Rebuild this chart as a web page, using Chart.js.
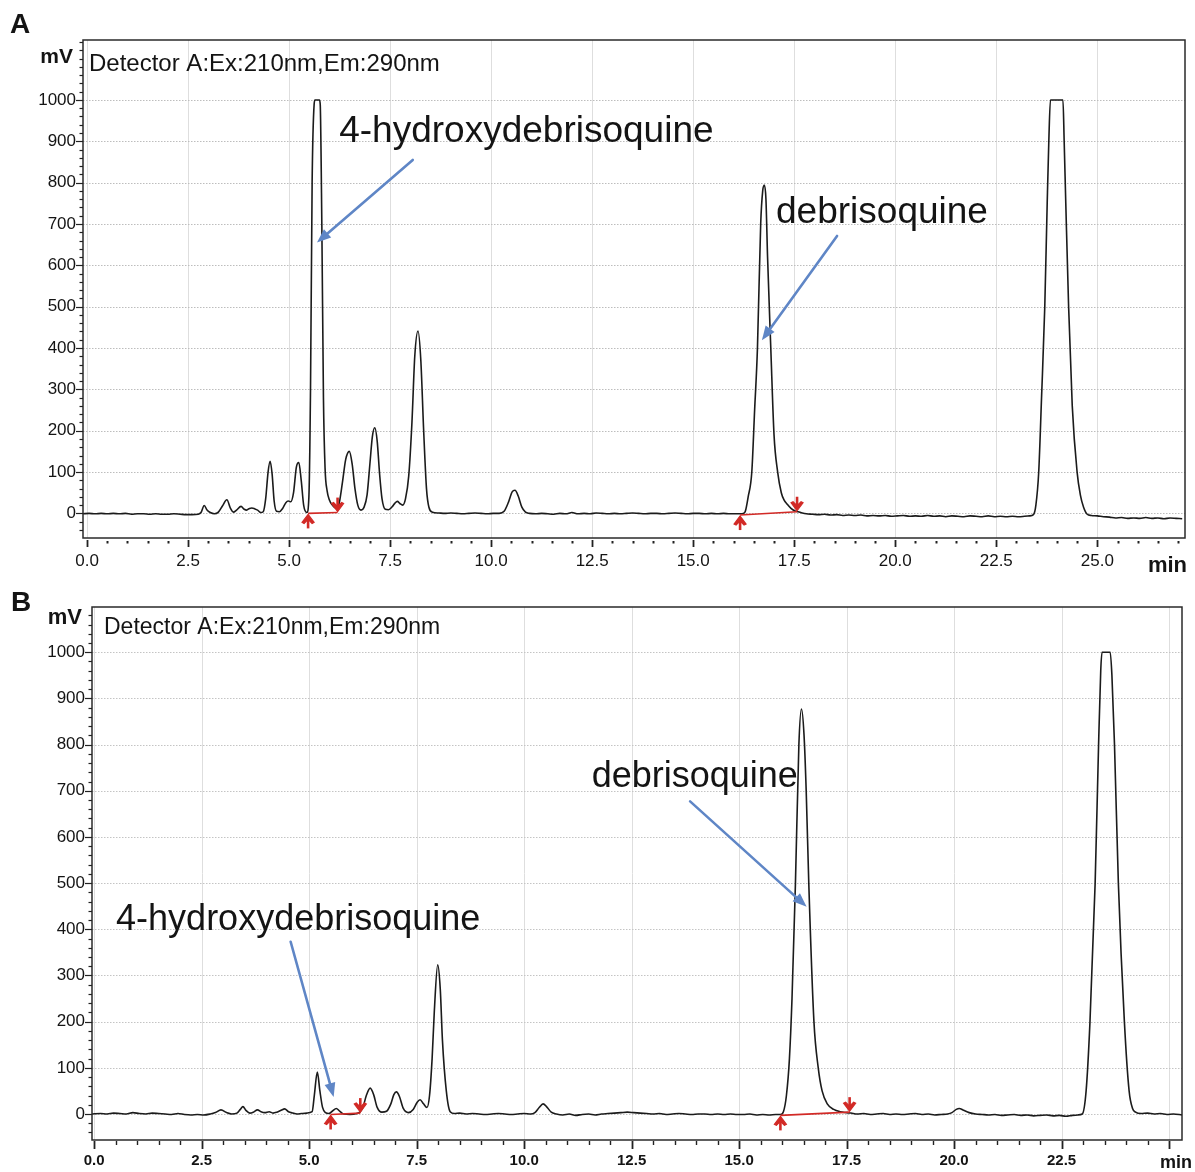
<!DOCTYPE html>
<html>
<head>
<meta charset="utf-8">
<script src="https://cdn.jsdelivr.net/npm/chart.js@4.4.1/dist/chart.umd.min.js"></script>
<style>
html,body{margin:0;padding:0;background:#fff;width:1195px;height:1172px;overflow:hidden;}
#wrapA{position:absolute;left:0;top:0;width:1195px;height:585px;}
#wrapB{position:absolute;left:0;top:585px;width:1195px;height:587px;}
canvas{display:block;}
</style>
</head>
<body>
<div id="wrapA"><canvas id="cA"></canvas></div>
<div id="wrapB"><canvas id="cB"></canvas></div>
<script>
// ---------- tick labels ----------
const xTickValues = [0, 2.5, 5, 7.5, 10, 12.5, 15, 17.5, 20, 22.5, 25];
const xTickLabelsA = ['0.0','2.5','5.0','7.5','10.0','12.5','15.0','17.5','20.0','22.5','25.0'];
const xTickLabelsB = ['0.0','2.5','5.0','7.5','10.0','12.5','15.0','17.5','20.0','22.5',''];
const yTickValues = [0, 100, 200, 300, 400, 500, 600, 700, 800, 900, 1000];
const yTickLabels = ['0','100','200','300','400','500','600','700','800','900','1000'];

// ---------- panel A chromatogram (min, mV) ----------
const timeA = [
  -0.10, 0.05, 0.20, 0.35, 0.50, 0.65, 0.80, 0.95, 1.10, 1.25, 1.40, 1.55, 1.70, 1.85, 2.00, 2.15, 2.30, 2.45, 2.60, 2.75, 2.82,
  2.90, 2.97, 3.05, 3.15, 3.25, 3.35, 3.46, 3.55, 3.62, 3.70, 3.81, 3.89, 3.95, 4.02, 4.08, 4.15, 4.22, 4.30, 4.36,
  4.42, 4.48, 4.53, 4.58, 4.63, 4.69, 4.76, 4.84, 4.92, 4.98, 5.04, 5.11, 5.18, 5.24, 5.30, 5.36, 5.44,
  5.49, 5.53, 5.57, 5.62, 5.64, 5.75, 5.77, 5.81, 5.85, 5.89, 5.94, 6.00, 6.07, 6.13, 6.18,
  6.24, 6.32, 6.40, 6.49, 6.56, 6.63, 6.70, 6.78, 6.85, 6.93, 7.00, 7.06, 7.12, 7.18, 7.24, 7.30, 7.38,
  7.46, 7.55, 7.62, 7.68, 7.74, 7.81, 7.88, 7.96, 8.04, 8.11, 8.19, 8.26, 8.33, 8.40, 8.46, 8.55,
  8.70, 8.85, 9.00, 9.15, 9.30, 9.45, 9.60, 9.75, 9.90, 10.05, 10.20,
  10.32, 10.42, 10.52, 10.59, 10.67, 10.76, 10.85, 10.95,
  11.10, 11.25, 11.40, 11.55, 11.70, 11.85, 12.00, 12.15, 12.30, 12.45, 12.60, 12.75, 12.90, 13.05, 13.20, 13.35, 13.50, 13.65,
  13.80, 13.95, 14.10, 14.25, 14.40, 14.55, 14.70, 14.85, 15.00, 15.15, 15.30, 15.45, 15.60, 15.75, 15.90, 16.05, 16.16, 16.24,
  16.29, 16.36, 16.45, 16.52, 16.59, 16.67, 16.72, 16.76, 16.80, 16.84, 16.92, 17.00, 17.09, 17.18, 17.25, 17.32, 17.42, 17.52, 17.60, 17.70,
  17.80, 17.95, 18.10, 18.25, 18.40, 18.55, 18.70, 18.85, 19.00, 19.15, 19.30, 19.45, 19.60, 19.75, 19.90, 20.05, 20.20, 20.35, 20.50,
  20.65, 20.80, 20.95, 21.10, 21.25, 21.40, 21.55, 21.70, 21.85, 22.00, 22.15, 22.30, 22.45, 22.60, 22.75, 22.90, 23.05, 23.20, 23.32,
  23.42, 23.48, 23.55, 23.62, 23.70, 23.76, 23.80, 23.84, 24.15, 24.18, 24.22, 24.29, 24.38, 24.50, 24.58, 24.66, 24.75,
  24.85, 25.00, 25.15, 25.30, 25.45, 25.60, 25.75, 25.90, 26.05, 26.20, 26.35, 26.50, 26.65, 26.80, 26.95, 27.10
];
const signalA = [
  -1, 0, -1, 0, -1, 0, -1, 0, -2, -1, -1, -2, -1, -2, -2, -1, -2, -3, -3, -2, 2,
  19, 8, 2, -1, 3, 18, 33, 12, 3, 8, 17, 10, 8, 12, 13, 11, 8, 2, 4,
  35, 100, 126, 95, 30, 5, 4, 12, 26, 30, 28, 50, 112, 123, 80, 20, 2,
  40, 300, 800, 990, 1000, 1000, 990, 700, 280, 110, 55, 32, 20, 14, 12,
  25, 75, 130, 150, 120, 60, 20, 8, 14, 45, 120, 185, 207, 175, 95, 35, 10,
  9, 16, 25, 29, 24, 20, 35, 90, 220, 380, 441, 370, 200, 60, 15, 3,
  1, 0, 1, 0, -1, 0, 1, 0, -1, 0, 0,
  5, 25, 52, 56, 42, 15, 3, 0,
  -1, 0, -1, -2, 0, -1, 2, -1, 0, -1, 1, 0, -1, 0, -1, 0, 1, 0,
  -1, 0, 0, -1, 0, 1, 0, -1, 0, 0, -1, 0, -1, 0, -1, -1, -1, 0,
  5, 40, 100, 250, 400, 700, 780, 794, 760, 620, 400, 190, 100, 50, 32, 23, 12, 6, 4, 1,
  -1, -2, -3, -2, -4, -3, -5, -4, -5, -4, -6, -5, -6, -5, -7, -6, -5, -7, -6,
  -7, -5, -7, -6, -8, -6, -7, -8, -6, -7, -8, -6, -8, -7, -8, -7, -8, -7, -6,
  -3, 20, 100, 280, 500, 750, 900, 1000, 1000, 900, 750, 500, 260, 100, 45, 15, -2,
  -5, -6, -8, -9, -11, -10, -12, -11, -12, -10, -12, -11, -13, -11, -12, -13
];

// ---------- panel B chromatogram (min, mV) ----------
const timeB = [
  -0.05, 0.15, 0.30, 0.45, 0.60, 0.75, 0.90, 1.05, 1.20, 1.35, 1.50, 1.65, 1.80, 1.95, 2.10, 2.25, 2.40, 2.55, 2.70,
  2.82, 2.95, 3.08, 3.20, 3.32, 3.40, 3.46, 3.53, 3.62, 3.70, 3.80, 3.88, 3.97, 4.07, 4.16, 4.25, 4.35, 4.43, 4.52, 4.62, 4.72, 4.82, 4.95, 5.07,
  5.12, 5.19, 5.25, 5.31, 5.38, 5.46, 5.55, 5.63, 5.71, 5.80, 5.95, 6.11,
  6.18, 6.25, 6.33, 6.42, 6.50, 6.58, 6.69, 6.80, 6.90, 6.97, 7.03, 7.10, 7.19, 7.31, 7.42, 7.51, 7.58, 7.66, 7.74, 7.80, 7.86, 7.91, 7.99, 8.05, 8.10, 8.19, 8.28, 8.38,
  8.50, 8.65, 8.80, 8.95, 9.10, 9.25, 9.40, 9.55, 9.70, 9.85, 10.00, 10.15,
  10.25, 10.35, 10.44, 10.53, 10.63, 10.75,
  10.90, 11.05, 11.20, 11.35, 11.50, 11.65, 11.80, 11.95, 12.10, 12.25, 12.40, 12.55, 12.70, 12.85, 13.00, 13.15, 13.30, 13.45,
  13.60, 13.75, 13.90, 14.05, 14.20, 14.35, 14.50, 14.65, 14.80, 14.95, 15.10, 15.25, 15.40, 15.55, 15.70, 15.85, 15.96,
  16.03, 16.10, 16.17, 16.23, 16.31, 16.39, 16.45, 16.51, 16.56, 16.62, 16.74, 16.84, 16.93, 17.05, 17.20, 17.35, 17.50, 17.60,
  17.75, 17.90, 18.05, 18.20, 18.35, 18.50, 18.65, 18.80, 18.95, 19.10, 19.25, 19.40, 19.55, 19.70, 19.85,
  19.95, 20.05, 20.12, 20.22, 20.35,
  20.50, 20.65, 20.80, 20.95, 21.10, 21.25, 21.40, 21.55, 21.70, 21.85, 22.00, 22.15, 22.30, 22.45, 22.60, 22.75, 22.88, 22.98,
  23.07, 23.16, 23.28, 23.36, 23.41, 23.44, 23.63, 23.67, 23.73, 23.82, 23.96, 24.07, 24.15, 24.22,
  24.35, 24.50, 24.65, 24.80, 24.95, 25.10, 25.30
];
const signalB = [
  0, 1, 0, 2, 1, 0, 3, 1, 0, 2, 1, 0, -1, 1, -1, -2, -1, -2, 0,
  3, 9, 3, 0, 2, 10, 16, 8, 2, 4, 9, 5, 3, 5, 2, 4, 8, 11, 5, 2, 0, 1, 2, 5,
  40, 91, 50, 15, 3, 1, 7, 12, 6, 0, -1, 1,
  4, 14, 40, 56, 42, 15, 4, 6, 22, 42, 48, 38, 12, 3, 10, 25, 31, 22, 14, 40, 120, 220, 323, 270, 160, 50, 5, 1,
  2, 0, 1, 0, -1, 0, 1, 0, -1, 0, 1, 0,
  3, 14, 22, 15, 4, 0,
  -2, 0, -3, -1, 0, -2, 0, 1, 2, 3, 4, 3, 2, 1, 0, 1, -1, 0,
  1, 0, -1, 0, 0, -1, 0, -1, 0, -1, -1, 0, -2, -1, -2, -1, -1,
  5, 40, 120, 250, 500, 800, 877, 820, 700, 500, 200, 100, 50, 22, 10, 5, 3, 2,
  0, 1, -1, 0, 1, -1, 0, -1, 0, 1, -1, 0, -2, -1, 0,
  3, 10, 12, 8, 3,
  0, -1, -2, -1, -3, -2, -1, -3, -2, -4, -3, -2, -4, -3, -5, -3, -2, 0,
  50, 200, 500, 800, 960, 1000, 1000, 950, 800, 500, 200, 50, 12, 4,
  1, 2, 0, 1, -1, 0, -2
];

// ---------- annotations (data coordinates) ----------
const labelsA = [
  { text: '4-hydroxydebrisoquine', t: 6.24, v: 899 },
  { text: 'debrisoquine', t: 17.05, v: 703 }
];
const arrowsA = [
  { t0: 8.06, v0: 855, t1: 5.69, v1: 655 },
  { t0: 18.56, v0: 671, t1: 16.70, v1: 419 }
];
const integA = [
  { t0: 5.47, v0: 0, t1: 6.20, v1: 2 },
  { t0: 16.16, v0: -4, t1: 17.57, v1: 4 }
];
const labelsB = [
  { text: '4-hydroxydebrisoquine', t: 0.51, v: 398 },
  { text: 'debrisoquine', t: 11.57, v: 708 }
];
const arrowsB = [
  { t0: 4.57, v0: 373, t1: 5.57, v1: 37 },
  { t0: 13.86, v0: 677, t1: 16.57, v1: 449 }
];
const integB = [
  { t0: 5.50, v0: -1, t1: 6.19, v1: 2 },
  { t0: 15.96, v0: -3, t1: 17.57, v1: 4 }
];

// ---------- drawing helpers ----------
const FONT = "'Liberation Sans', Arial, Helvetica, sans-serif";
const RED = '#d22a26';
const BLUE = '#5f86c6';
const INK = '#141414';

function seg(ctx, x0, y0, x1, y1) { ctx.beginPath(); ctx.moveTo(x0, y0); ctx.lineTo(x1, y1); ctx.stroke(); }

function redArrow(ctx, x, y, dir) {
  const s = dir === 'up' ? 1 : -1;
  const tipY = y + s * 1;
  ctx.lineWidth = 2.6;
  seg(ctx, x, tipY + s * 3, x, tipY + s * 14);
  ctx.beginPath();
  ctx.moveTo(x, tipY);
  ctx.lineTo(x + 6, tipY + s * 8);
  ctx.lineTo(x + 4, tipY + s * 9);
  ctx.lineTo(x, tipY + s * 5);
  ctx.lineTo(x - 4, tipY + s * 9);
  ctx.lineTo(x - 6, tipY + s * 8);
  ctx.closePath();
  ctx.fill();
  ctx.lineWidth = 1.2;
  ctx.stroke();
}

function blueArrow(ctx, x0, y0, x1, y1) {
  const ang = Math.atan2(y1 - y0, x1 - x0);
  const L = 14, W = 5.5;
  const bx = x1 - L * Math.cos(ang), by = y1 - L * Math.sin(ang);
  ctx.strokeStyle = BLUE; ctx.fillStyle = BLUE; ctx.lineWidth = 2.6; ctx.lineCap = 'round';
  seg(ctx, x0, y0, bx + 2 * Math.cos(ang), by + 2 * Math.sin(ang));
  ctx.beginPath();
  ctx.moveTo(x1, y1);
  ctx.lineTo(bx + W * Math.sin(ang), by - W * Math.cos(ang));
  ctx.lineTo(bx - W * Math.sin(ang), by + W * Math.cos(ang));
  ctx.closePath();
  ctx.fill();
  ctx.lineCap = 'butt';
}

function makeDeco(p) {
  return {
    id: 'deco' + p.id,
    beforeDatasetsDraw(chart) {
      const ctx = chart.ctx, ca = chart.chartArea, xs = chart.scales.x, ys = chart.scales.y;
      ctx.save();
      ctx.beginPath(); ctx.rect(ca.left, ca.top, ca.right - ca.left, ca.bottom - ca.top); ctx.clip();
      ctx.lineWidth = 1;
      ctx.strokeStyle = p.vGridColor;
      xTickValues.forEach(v => {
        const px = Math.round(xs.getPixelForValue(v)) + 0.5;
        seg(ctx, px, ca.top, px, ca.bottom);
      });
      ctx.strokeStyle = p.hGridColor;
      ctx.setLineDash([1.5, 1.5]);
      yTickValues.forEach(v => {
        const py = Math.round(ys.getPixelForValue(v)) + 0.5;
        seg(ctx, ca.left, py, ca.right, py);
      });
      ctx.restore();
    },
    afterDatasetsDraw(chart) {
      const ctx = chart.ctx, ca = chart.chartArea, xs = chart.scales.x, ys = chart.scales.y;
      const X = v => xs.getPixelForValue(v), Y = v => ys.getPixelForValue(v);
      ctx.save();
      // integration baselines + markers
      ctx.strokeStyle = RED; ctx.fillStyle = RED;
      p.integ.forEach(m => {
        ctx.lineWidth = 1.6;
        seg(ctx, X(m.t0), Y(m.v0), X(m.t1), Y(m.v1));
        redArrow(ctx, X(m.t0), Y(m.v0), 'up');
        redArrow(ctx, X(m.t1), Y(m.v1), 'down');
      });
      // blue pointer arrows
      p.arrows.forEach(a => blueArrow(ctx, X(a.t0), Y(a.v0), X(a.t1), Y(a.v1)));
      // compound labels
      ctx.fillStyle = INK; ctx.textAlign = 'left'; ctx.textBaseline = 'alphabetic';
      ctx.font = p.annFont;
      p.labels.forEach(l => ctx.fillText(l.text, X(l.t), Y(l.v)));
      // plot border
      ctx.strokeStyle = '#2a2a2a'; ctx.lineWidth = 1.5;
      ctx.strokeRect(ca.left, ca.top, ca.right - ca.left, ca.bottom - ca.top);
      // y axis ticks
      ctx.strokeStyle = '#222'; ctx.lineWidth = 1.2;
      for (let v = Math.ceil(ys.min / 20) * 20; v <= ys.max; v += 20) {
        const py = Math.round(Y(v)) + 0.5;
        const major = (v % 100 === 0) && v >= 0 && v <= 1000;
        seg(ctx, ca.left - (major ? 7 : 3.5), py, ca.left, py);
      }
      // x axis ticks
      for (let v = 0; v <= xs.max + 1e-9; v += 0.5) {
        const px = Math.round(X(v)) + 0.5;
        const major = Math.abs(v / 2.5 - Math.round(v / 2.5)) < 1e-6;
        if (major) {
          ctx.lineWidth = 1.8;
          seg(ctx, px, ca.bottom + p.majTick[0], px, ca.bottom + p.majTick[1]);
        } else {
          ctx.lineWidth = p.minWidth;
          seg(ctx, px, ca.bottom + p.minTick[0], px, ca.bottom + p.minTick[1]);
        }
      }
      // texts around the plot
      ctx.fillStyle = INK;
      ctx.font = 'bold ' + p.letterSize + 'px ' + FONT;
      ctx.textAlign = 'left';
      ctx.fillText(p.letter, p.letterPos[0], p.letterPos[1]);
      ctx.font = 'bold ' + p.mvSize + 'px ' + FONT;
      ctx.textAlign = 'right';
      ctx.fillText('mV', ca.left - 10, ca.top + p.mvDy);
      ctx.font = 'bold ' + p.minSize + 'px ' + FONT;
      ctx.fillText('min', p.minPos[0], p.minPos[1]);
      ctx.font = p.detSize + 'px ' + FONT;
      ctx.textAlign = 'left';
      ctx.fillText('Detector A:Ex:210nm,Em:290nm', ca.left + p.detDx, ca.top + p.detDy);
      ctx.restore();
    }
  };
}

function buildChart(canvasId, p) {
  return new Chart(document.getElementById(canvasId), {
    type: 'line',
    data: {
      datasets: [{
        data: p.time.map((t, i) => ({ x: t, y: p.signal[i] })),
        borderColor: '#1b1b1b',
        borderWidth: 1.6,
        pointRadius: 0,
        cubicInterpolationMode: 'monotone',
        fill: false
      }]
    },
    options: {
      responsive: true,
      maintainAspectRatio: false,
      animation: false,
      events: [],
      layout: { padding: { top: p.padTop, right: p.padRight, left: 0, bottom: 0 } },
      plugins: { legend: { display: false }, tooltip: { enabled: false } },
      scales: {
        x: {
          type: 'linear', min: p.xMin, max: p.xMax,
          afterBuildTicks: s => { s.ticks = xTickValues.map(v => ({ value: v })); },
          afterFit: s => { s.height = p.xAxisH; },
          grid: { display: false, drawTicks: false },
          border: { display: false },
          ticks: {
            autoSkip: false, maxRotation: 0, padding: p.xPad, color: INK,
            font: { family: FONT, size: p.xFont, weight: p.xWeight },
            callback: (v, i) => p.xLabels[i]
          }
        },
        y: {
          type: 'linear', min: p.yMin, max: p.yMax,
          afterBuildTicks: s => { s.ticks = yTickValues.map(v => ({ value: v })); },
          afterFit: s => { s.width = p.yAxisW; },
          grid: { display: false, drawTicks: false },
          border: { display: false },
          ticks: {
            autoSkip: false, padding: 7, color: INK,
            font: { family: FONT, size: 17 },
            callback: (v, i) => yTickLabels[i]
          }
        }
      }
    },
    plugins: [makeDeco(p)]
  });
}

buildChart('cA', {
  id: 'A', time: timeA, signal: signalA,
  xMin: -0.1, xMax: 27.17, yMin: -59.5, yMax: 1145,
  padTop: 40, padRight: 10, yAxisW: 83, xAxisH: 47, xPad: 13, xFont: 17, xWeight: 'normal', xLabels: xTickLabelsA,
  vGridColor: '#dedede', hGridColor: '#bdbdbd',
  labels: labelsA, arrows: arrowsA, integ: integA, annFont: '37px ' + FONT,
  majTick: [2, 9], minTick: [3, 5.5], minWidth: 2,
  letter: 'A', letterSize: 28, letterPos: [10, 33],
  mvSize: 21, mvDy: 23, minSize: 22, minPos: [1187, 572],
  detSize: 24, detDx: 6, detDy: 31
});

buildChart('cB', {
  id: 'B', time: timeB, signal: signalB,
  xMin: -0.05, xMax: 25.3, yMin: -56.3, yMax: 1098,
  padTop: 22, padRight: 13, yAxisW: 92, xAxisH: 32, xPad: 12, xFont: 15, xWeight: 'bold', xLabels: xTickLabelsB,
  vGridColor: '#dedede', hGridColor: '#c4c4c4',
  labels: labelsB, arrows: arrowsB, integ: integB, annFont: '36px ' + FONT,
  majTick: [1, 9], minTick: [1, 5], minWidth: 1.4,
  letter: 'B', letterSize: 28, letterPos: [11, 26],
  mvSize: 22, mvDy: 17, minSize: 18, minPos: [1192, 583],
  detSize: 23, detDx: 12, detDy: 27
});
</script>
</body>
</html>
